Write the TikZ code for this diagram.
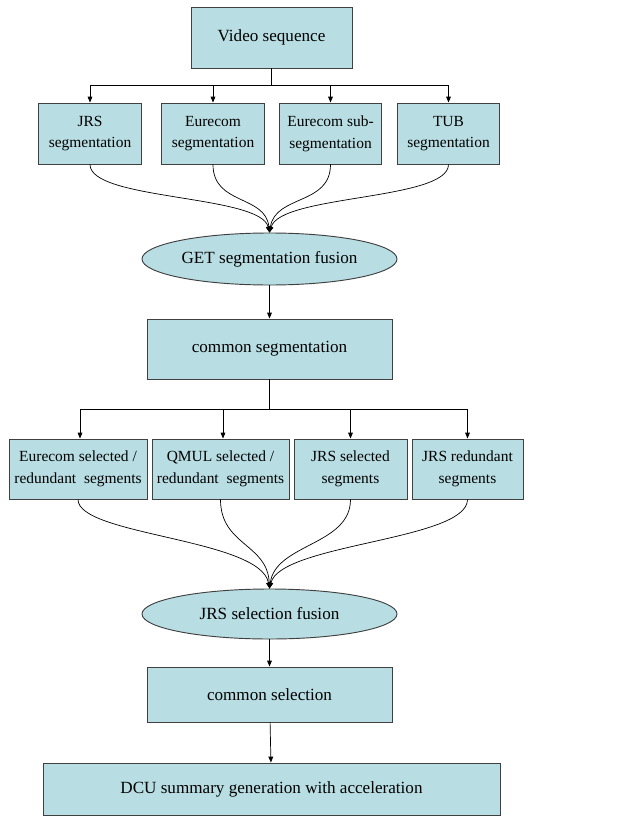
\documentclass[tikz,border=0pt]{standalone}
\usepackage{fontspec}
\setmainfont{Liberation Serif}
\usetikzlibrary{shapes.geometric,arrows.meta}
\definecolor{boxfill}{RGB}{184,222,228}
\definecolor{boxline}{RGB}{64,64,64}
\begin{document}
\begin{tikzpicture}[
    x=0.03cm, y=-0.03cm,
    >={Triangle[length=5pt,width=4pt]},
    box/.style={draw=boxline, line width=0.8pt, rectangle, fill=boxfill, align=center, inner sep=1pt, font=\fontsize{14.6}{17.5}\selectfont},
    smallbox/.style={box, minimum height=1.8cm, font=\fontsize{13.2}{18.5}\selectfont},
    fusion/.style={draw=boxline, line width=0.8pt, ellipse, fill=boxfill, inner sep=0pt, minimum width=7.65cm, font=\fontsize{14.6}{17.5}\selectfont},
    arrow/.style={->, line width=0.6pt, draw=black}
]
  \useasboundingbox (0,0) rectangle (639,818);

  \node[box, minimum width=4.83cm, minimum height=1.83cm] (video) at (271.5,37.5) {Video sequence};

  \node[smallbox, minimum width=3.08cm, minimum height=1.83cm] (jrsseg) at (90,133.5) {JRS\\segmentation};
  \node[smallbox, minimum width=3.08cm, minimum height=1.83cm] (eurseg) at (213,133.5) {Eurecom\\segmentation};
  \node[smallbox, minimum width=3.08cm, minimum height=1.83cm] (eursub) at (330.5,133.5) {Eurecom sub-\\segmentation};
  \node[smallbox, minimum width=3.08cm, minimum height=1.83cm] (tubseg) at (448.5,133.5) {TUB\\segmentation};

  \node[fusion, minimum height=1.56cm] (getfus) at (269.5,259) {GET segmentation fusion};
  \node[box, minimum width=7.35cm, minimum height=1.8cm] (comseg) at (269.5,349) {common segmentation};

  \node[smallbox, minimum width=4.14cm] (eursel) at (78,469) {Eurecom selected /\\redundant\ \ segments};
  \node[smallbox, minimum width=4.11cm] (qmulsel) at (220.5,469) {QMUL selected /\\redundant\ \ segments};
  \node[smallbox, minimum width=3.39cm] (jrssel) at (350.5,469) {JRS selected\\segments};
  \node[smallbox, minimum width=3.33cm] (jrsred) at (467.5,469) {JRS redundant\\segments};

  \node[fusion, minimum height=1.5cm] (jrsfus) at (269.5,614) {JRS selection fusion};
  \node[box, minimum width=7.35cm, minimum height=1.65cm] (comsel) at (269.5,694.5) {common selection};
  \node[box, minimum width=13.71cm, minimum height=1.56cm] (dcu) at (271.5,789) {DCU summary generation with acceleration};

  \draw[arrow] (video.south) -- ++(0,17) -| (jrsseg.north);
  \draw[arrow] (video.south) -- ++(0,17) -| (eurseg.north);
  \draw[arrow] (video.south) -- ++(0,17) -| (eursub.north);
  \draw[arrow] (video.south) -- ++(0,17) -| (tubseg.north);

  % curves into the fusion ellipses
  \draw[arrow] (jrsseg.south) .. controls +(0,36) and +(-9,-38) .. (getfus.north);
  \draw[arrow] (eurseg.south) .. controls +(0,41) and +(-4,-38) .. (getfus.north);
  \draw[arrow] (eursub.south) .. controls +(0,41) and +(6,-38) .. (getfus.north);
  \draw[arrow] (tubseg.south) .. controls +(0,36) and +(11,-38) .. (getfus.north);

  \draw[arrow] (getfus) -- (comseg);

  \draw[arrow] (comseg.south) -- ++(0,30) -| (eursel.north -| 80,0);
  \draw[arrow] (comseg.south) -- ++(0,30) -| (qmulsel.north -| 223,0);
  \draw[arrow] (comseg.south) -- ++(0,30) -| (jrssel.north);
  \draw[arrow] (comseg.south) -- ++(0,30) -| (jrsred.north);

  \draw[arrow] (eursel.south) .. controls +(0,36) and +(-9,-50) .. (jrsfus.north);
  \draw[arrow] (qmulsel.south) .. controls +(0,46) and +(-2,-45) .. (jrsfus.north);
  \draw[arrow] (jrssel.south) .. controls +(0,46) and +(6,-45) .. (jrsfus.north);
  \draw[arrow] (jrsred.south) .. controls +(0,41) and +(11,-45) .. (jrsfus.north);

  \draw[arrow] (jrsfus) -- (comsel);
  \draw[arrow] (comsel) -- (dcu);
\end{tikzpicture}
\end{document}
